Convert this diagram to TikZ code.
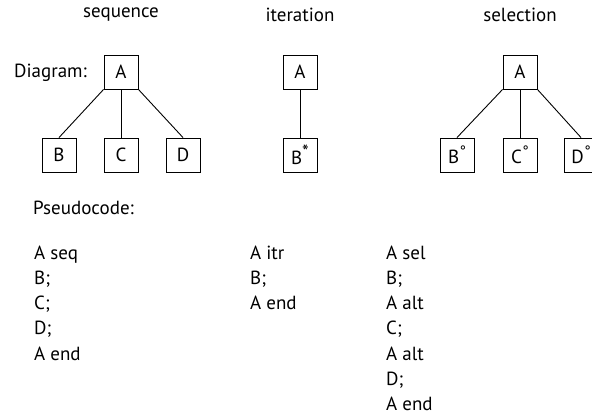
\documentclass[tikz,border=0pt]{standalone}
\usepackage{fontspec}
\setmainfont{PT Sans}
\newcommand{\supring}{\kern0.5pt\raisebox{0.75ex}{\fontsize{15}{15}\selectfont°}}
\newcommand{\supstar}{\raisebox{0.6ex}{\fontsize{19}{19}\selectfont*}}
\begin{document}
\begin{tikzpicture}[x=1pt,y=-1pt,
  every node/.style={font=\fontsize{19}{23}\selectfont, inner sep=0pt},
  box/.style={draw, line width=0.9pt, minimum width=34pt, minimum height=34pt},
  link/.style={line width=0.9pt},
  code/.style={anchor=base west}]
\useasboundingbox (0,0) rectangle (592,416);
\clip (0,0) rectangle (592,416);
% titles
\node (t1) at (121,15) {sequence};
\node (t2) at (300,15) {iteration};
\node (t3) at (520,15) {selection};
\node[anchor=west] (dg) at (14,73) {Diagram:};
% sequence
\node[box] (sa) at (121,72) {A};
\node[box] (sb) at (59,155) {B};
\node[box] (sc) at (121,155) {C};
\node[box] (sd) at (183,155) {D};
\draw[link] (sa.south west) -- (sb.north);
\draw[link] (sa.south) -- (sc.north);
\draw[link] (sa.south east) -- (sd.north);
% iteration
\node[box] (ia) at (300,72) {A};
\node[box] (ib) at (300,155) {B\supstar};
\draw[link] (ia.south) -- (ib.north);
% selection
\node[box] (xa) at (520,72) {A};
\node[box] (xb) at (457,155) {B\supring};
\node[box] (xc) at (520,155) {C\supring};
\node[box] (xd) at (581,155) {D\supring};
\draw[link] (xa.south west) -- (xb.north);
\draw[link] (xa.south) -- (xc.north);
\draw[link] (xa.south east) -- (xd.north);
% pseudocode
\node[code] (ps) at (33,214) {Pseudocode:};
\node[code] (p1) at (34,259) {A seq};
\node[code] (p2) at (34,284.3) {B;};
\node[code] (p3) at (34,309.6) {C;};
\node[code] (p4) at (34,334.9) {D;};
\node[code] (p5) at (34,360.2) {A end};
\node[code] (q1) at (250,259) {A itr};
\node[code] (q2) at (250,284.3) {B;};
\node[code] (q3) at (250,309.6) {A end};
\node[code] (r1) at (386,259) {A sel};
\node[code] (r2) at (386,284.3) {B;};
\node[code] (r3) at (386,309.6) {A alt};
\node[code] (r4) at (386,334.9) {C;};
\node[code] (r5) at (386,360.2) {A alt};
\node[code] (r6) at (386,385.5) {D;};
\node[code] (r7) at (386,410.8) {A end};
\end{tikzpicture}
\end{document}
